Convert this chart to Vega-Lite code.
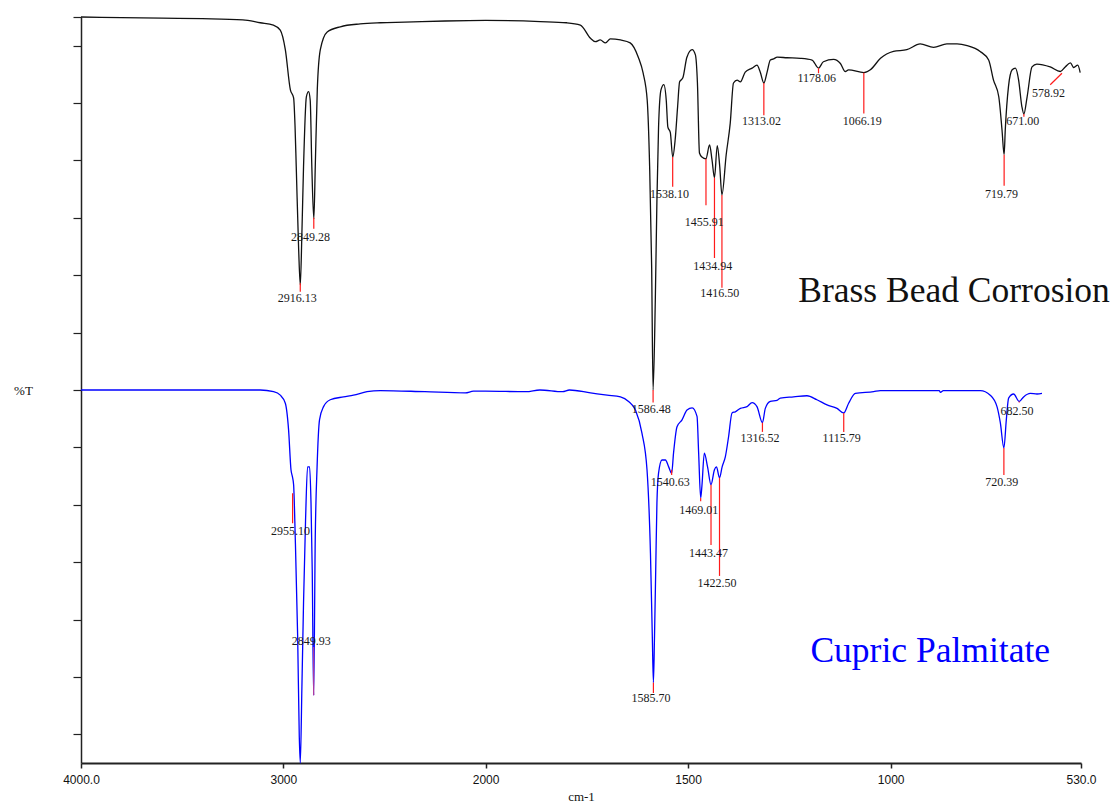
{
  "$schema": "https://vega.github.io/schema/vega-lite/v6.json",
  "width": 1000,
  "height": 746,
  "autosize": {"type": "none"},
  "padding": {"left": 81, "top": 17, "right": 33, "bottom": 43},
  "background": "white",
  "config": {
    "view": {"stroke": null},
    "axis": {"grid": false, "domainColor": "#222", "tickColor": "#222", "titleFont": "Liberation Serif", "titleFontWeight": "normal", "titleColor": "#111"},
    "axisX": {"tickSize": 5, "domainWidth": 2, "tickWidth": 1.5, "labelFont": "Liberation Sans Narrow, Liberation Sans", "labelFontSize": 12, "labelColor": "#111", "labelPadding": 6, "labelFlush": false, "labelOverlap": false, "titleFontSize": 13, "titlePadding": 5},
    "axisY": {"labels": false, "tickSize": 8, "domainWidth": 1.5, "tickWidth": 1.2, "titleAngle": 0, "titleX": -58, "titleY": 373, "titleAlign": "center", "titleBaseline": "middle", "titleFontSize": 13}
  },
  "resolve": {"scale": {"color": "independent"}},
  "datasets": {
    "spectra": [
      {"s":"Brass","nu":4000,"t":125.0},{"s":"Brass","nu":3800,"t":124.9},{"s":"Brass","nu":3600,"t":124.8},{"s":"Brass","nu":3400,"t":124.7},{"s":"Brass","nu":3200,"t":124.5},{"s":"Brass","nu":3114,"t":124.0},{"s":"Brass","nu":3049,"t":123.6},{"s":"Brass","nu":3015,"t":122.7},{"s":"Brass","nu":2990,"t":119.3},{"s":"Brass","nu":2965,"t":112.3},{"s":"Brass","nu":2949,"t":110.9},{"s":"Brass","nu":2942,"t":106.0},{"s":"Brass","nu":2936,"t":98.9},{"s":"Brass","nu":2924,"t":84.4},{"s":"Brass","nu":2916,"t":78.3},{"s":"Brass","nu":2908,"t":87.4},{"s":"Brass","nu":2900,"t":98.9},{"s":"Brass","nu":2886,"t":111.1},{"s":"Brass","nu":2875,"t":112.0},{"s":"Brass","nu":2867,"t":110.5},{"s":"Brass","nu":2859,"t":98.9},{"s":"Brass","nu":2849,"t":89.8},{"s":"Brass","nu":2842,"t":98.9},{"s":"Brass","nu":2832,"t":112.3},{"s":"Brass","nu":2817,"t":119.3},{"s":"Brass","nu":2783,"t":122.4},{"s":"Brass","nu":2718,"t":123.3},{"s":"Brass","nu":2620,"t":123.8},{"s":"Brass","nu":2521,"t":124.0},{"s":"Brass","nu":2400,"t":124.1},{"s":"Brass","nu":2200,"t":124.3},{"s":"Brass","nu":2000,"t":124.4},{"s":"Brass","nu":1865,"t":124.2},{"s":"Brass","nu":1800,"t":124.0},{"s":"Brass","nu":1766,"t":123.6},{"s":"Brass","nu":1741,"t":121.3},{"s":"Brass","nu":1729,"t":120.7},{"s":"Brass","nu":1717,"t":121.0},{"s":"Brass","nu":1704,"t":120.5},{"s":"Brass","nu":1692,"t":121.2},{"s":"Brass","nu":1667,"t":121.0},{"s":"Brass","nu":1643,"t":120.5},{"s":"Brass","nu":1623,"t":118.0},{"s":"Brass","nu":1611,"t":115.2},{"s":"Brass","nu":1601,"t":110.5},{"s":"Brass","nu":1595,"t":98.9},{"s":"Brass","nu":1590,"t":81.4},{"s":"Brass","nu":1586.5,"t":60.0},{"s":"Brass","nu":1581,"t":75.7},{"s":"Brass","nu":1577,"t":93.1},{"s":"Brass","nu":1573,"t":105.8},{"s":"Brass","nu":1567,"t":112.3},{"s":"Brass","nu":1560,"t":113.2},{"s":"Brass","nu":1554,"t":110.5},{"s":"Brass","nu":1550,"t":105.8},{"s":"Brass","nu":1544,"t":104.9},{"s":"Brass","nu":1538,"t":100.6},{"s":"Brass","nu":1532,"t":103.6},{"s":"Brass","nu":1526,"t":109.3},{"s":"Brass","nu":1521,"t":113.7},{"s":"Brass","nu":1513,"t":114.4},{"s":"Brass","nu":1503,"t":118.0},{"s":"Brass","nu":1490,"t":119.3},{"s":"Brass","nu":1482,"t":118.4},{"s":"Brass","nu":1477,"t":113.5},{"s":"Brass","nu":1472,"t":101.3},{"s":"Brass","nu":1466,"t":100.6},{"s":"Brass","nu":1456,"t":100.3},{"s":"Brass","nu":1447,"t":102.7},{"s":"Brass","nu":1441,"t":100.1},{"s":"Brass","nu":1435,"t":97.0},{"s":"Brass","nu":1428,"t":102.6},{"s":"Brass","nu":1422,"t":99.0},{"s":"Brass","nu":1416.5,"t":94.0},{"s":"Brass","nu":1406,"t":101.0},{"s":"Brass","nu":1396,"t":106.5},{"s":"Brass","nu":1388,"t":113.5},{"s":"Brass","nu":1379,"t":114.0},{"s":"Brass","nu":1371,"t":113.7},{"s":"Brass","nu":1359,"t":115.4},{"s":"Brass","nu":1342,"t":116.1},{"s":"Brass","nu":1330,"t":116.6},{"s":"Brass","nu":1322,"t":115.4},{"s":"Brass","nu":1313,"t":113.5},{"s":"Brass","nu":1305,"t":115.4},{"s":"Brass","nu":1297,"t":117.5},{"s":"Brass","nu":1289,"t":117.7},{"s":"Brass","nu":1280,"t":118.0},{"s":"Brass","nu":1256,"t":117.9},{"s":"Brass","nu":1223,"t":117.8},{"s":"Brass","nu":1194,"t":117.5},{"s":"Brass","nu":1178,"t":116.1},{"s":"Brass","nu":1166,"t":117.2},{"s":"Brass","nu":1141,"t":117.6},{"s":"Brass","nu":1124,"t":116.9},{"s":"Brass","nu":1112,"t":115.5},{"s":"Brass","nu":1104,"t":115.8},{"s":"Brass","nu":1066,"t":115.3},{"s":"Brass","nu":1050,"t":115.8},{"s":"Brass","nu":1025,"t":117.8},{"s":"Brass","nu":993,"t":119.0},{"s":"Brass","nu":960,"t":119.3},{"s":"Brass","nu":927,"t":120.3},{"s":"Brass","nu":894,"t":119.7},{"s":"Brass","nu":861,"t":120.3},{"s":"Brass","nu":836,"t":120.3},{"s":"Brass","nu":811,"t":120.0},{"s":"Brass","nu":779,"t":119.0},{"s":"Brass","nu":758,"t":117.5},{"s":"Brass","nu":746,"t":114.0},{"s":"Brass","nu":733,"t":111.1},{"s":"Brass","nu":725,"t":105.3},{"s":"Brass","nu":719.8,"t":101.0},{"s":"Brass","nu":717,"t":105.3},{"s":"Brass","nu":709,"t":112.9},{"s":"Brass","nu":700,"t":115.8},{"s":"Brass","nu":692,"t":116.1},{"s":"Brass","nu":684,"t":114.0},{"s":"Brass","nu":676,"t":109.4},{"s":"Brass","nu":671,"t":108.1},{"s":"Brass","nu":663,"t":111.1},{"s":"Brass","nu":651,"t":116.3},{"s":"Brass","nu":639,"t":116.8},{"s":"Brass","nu":606,"t":116.3},{"s":"Brass","nu":581,"t":115.5},{"s":"Brass","nu":569,"t":116.3},{"s":"Brass","nu":556,"t":117.0},{"s":"Brass","nu":548,"t":116.2},{"s":"Brass","nu":538,"t":116.6},{"s":"Brass","nu":532,"t":115.3},
      {"s":"Cupric","nu":4000,"t":60.0},{"s":"Cupric","nu":3600,"t":60.0},{"s":"Cupric","nu":3300,"t":60.0},{"s":"Cupric","nu":3114,"t":60.0},{"s":"Cupric","nu":3048,"t":59.7},{"s":"Cupric","nu":3015,"t":59.1},{"s":"Cupric","nu":2990,"t":57.7},{"s":"Cupric","nu":2974,"t":53.1},{"s":"Cupric","nu":2962,"t":46.1},{"s":"Cupric","nu":2955,"t":44.9},{"s":"Cupric","nu":2949,"t":43.5},{"s":"Cupric","nu":2941,"t":34.4},{"s":"Cupric","nu":2929,"t":17.0},{"s":"Cupric","nu":2921,"t":-0.4},{"s":"Cupric","nu":2916,"t":-5.0},{"s":"Cupric","nu":2908,"t":8.3},{"s":"Cupric","nu":2900,"t":22.9},{"s":"Cupric","nu":2890,"t":37.3},{"s":"Cupric","nu":2880,"t":46.6},{"s":"Cupric","nu":2870,"t":46.6},{"s":"Cupric","nu":2863,"t":40.3},{"s":"Cupric","nu":2857,"t":28.6},{"s":"Cupric","nu":2850,"t":6.8},{"s":"Cupric","nu":2842,"t":34.4},{"s":"Cupric","nu":2833,"t":46.6},{"s":"Cupric","nu":2821,"t":54.8},{"s":"Cupric","nu":2801,"t":57.1},{"s":"Cupric","nu":2768,"t":58.3},{"s":"Cupric","nu":2702,"t":58.8},{"s":"Cupric","nu":2653,"t":59.1},{"s":"Cupric","nu":2586,"t":59.7},{"s":"Cupric","nu":2520,"t":59.9},{"s":"Cupric","nu":2300,"t":59.7},{"s":"Cupric","nu":2100,"t":59.5},{"s":"Cupric","nu":2060,"t":59.8},{"s":"Cupric","nu":2000,"t":59.8},{"s":"Cupric","nu":1900,"t":59.7},{"s":"Cupric","nu":1866,"t":60.0},{"s":"Cupric","nu":1810,"t":59.7},{"s":"Cupric","nu":1793,"t":60.0},{"s":"Cupric","nu":1741,"t":59.5},{"s":"Cupric","nu":1700,"t":59.1},{"s":"Cupric","nu":1667,"t":58.8},{"s":"Cupric","nu":1647,"t":58.0},{"s":"Cupric","nu":1630,"t":56.5},{"s":"Cupric","nu":1614,"t":52.5},{"s":"Cupric","nu":1601.5,"t":46.1},{"s":"Cupric","nu":1593,"t":31.6},{"s":"Cupric","nu":1588.4,"t":17.0},{"s":"Cupric","nu":1585.7,"t":9.0},{"s":"Cupric","nu":1583,"t":17.0},{"s":"Cupric","nu":1580,"t":28.6},{"s":"Cupric","nu":1577,"t":40.3},{"s":"Cupric","nu":1573,"t":45.5},{"s":"Cupric","nu":1564.5,"t":47.8},{"s":"Cupric","nu":1556,"t":47.8},{"s":"Cupric","nu":1548,"t":46.6},{"s":"Cupric","nu":1540.6,"t":45.5},{"s":"Cupric","nu":1536,"t":49.0},{"s":"Cupric","nu":1527.4,"t":53.6},{"s":"Cupric","nu":1515,"t":54.8},{"s":"Cupric","nu":1502.7,"t":56.5},{"s":"Cupric","nu":1490,"t":56.9},{"s":"Cupric","nu":1478,"t":55.4},{"s":"Cupric","nu":1474,"t":49.0},{"s":"Cupric","nu":1469,"t":41.2},{"s":"Cupric","nu":1466,"t":43.2},{"s":"Cupric","nu":1460,"t":49.0},{"s":"Cupric","nu":1452,"t":46.6},{"s":"Cupric","nu":1443.5,"t":43.5},{"s":"Cupric","nu":1435,"t":46.1},{"s":"Cupric","nu":1430,"t":46.6},{"s":"Cupric","nu":1422.5,"t":44.7},{"s":"Cupric","nu":1416,"t":46.6},{"s":"Cupric","nu":1408,"t":48.4},{"s":"Cupric","nu":1400,"t":51.9},{"s":"Cupric","nu":1391.6,"t":56.0},{"s":"Cupric","nu":1383.5,"t":56.2},{"s":"Cupric","nu":1371,"t":56.8},{"s":"Cupric","nu":1354.6,"t":57.1},{"s":"Cupric","nu":1342,"t":57.8},{"s":"Cupric","nu":1330,"t":57.1},{"s":"Cupric","nu":1316.5,"t":54.3},{"s":"Cupric","nu":1309.4,"t":56.8},{"s":"Cupric","nu":1297,"t":58.0},{"s":"Cupric","nu":1280.5,"t":58.2},{"s":"Cupric","nu":1272.4,"t":58.6},{"s":"Cupric","nu":1239.6,"t":58.8},{"s":"Cupric","nu":1206.5,"t":59.0},{"s":"Cupric","nu":1182,"t":58.3},{"s":"Cupric","nu":1157,"t":57.4},{"s":"Cupric","nu":1132.4,"t":56.8},{"s":"Cupric","nu":1115.8,"t":56.0},{"s":"Cupric","nu":1103.7,"t":57.7},{"s":"Cupric","nu":1087,"t":59.4},{"s":"Cupric","nu":1042,"t":59.7},{"s":"Cupric","nu":1025.5,"t":59.9},{"s":"Cupric","nu":880,"t":59.9},{"s":"Cupric","nu":877,"t":59.6},{"s":"Cupric","nu":870,"t":59.9},{"s":"Cupric","nu":778.6,"t":59.9},{"s":"Cupric","nu":754,"t":59.1},{"s":"Cupric","nu":737.4,"t":57.1},{"s":"Cupric","nu":729.2,"t":54.3},{"s":"Cupric","nu":720.4,"t":49.9},{"s":"Cupric","nu":714.4,"t":54.8},{"s":"Cupric","nu":708.7,"t":58.6},{"s":"Cupric","nu":696.4,"t":59.3},{"s":"Cupric","nu":682.5,"t":58.0},{"s":"Cupric","nu":671.7,"t":58.8},{"s":"Cupric","nu":655.2,"t":59.4},{"s":"Cupric","nu":638.6,"t":59.3},{"s":"Cupric","nu":626.3,"t":59.4}
    ],
    "peaks": [
      {"label":"2916.13","p":2916.13,"p2":2916.13,"a":78.6,"b":77.1,"lx":2931,"ly":76.0,"k":"r"},
      {"label":"2849.28","p":2849.28,"p2":2849.28,"a":90.0,"b":88.1,"lx":2866,"ly":86.7,"k":"r"},
      {"label":"1586.48","p":1586.48,"p2":1586.48,"a":60.0,"b":57.8,"lx":1591,"ly":56.7,"k":"r"},
      {"label":"1538.10","p":1538.1,"p2":1538.1,"a":100.6,"b":95.4,"lx":1546,"ly":94.1,"k":"r"},
      {"label":"1455.91","p":1455.91,"p2":1455.91,"a":100.3,"b":92.2,"lx":1460,"ly":89.3,"k":"r"},
      {"label":"1434.94","p":1434.94,"p2":1434.94,"a":97.0,"b":83.0,"lx":1439,"ly":81.6,"k":"r"},
      {"label":"1416.50","p":1416.5,"p2":1416.5,"a":94.0,"b":77.8,"lx":1421.6,"ly":76.9,"k":"r"},
      {"label":"1313.02","p":1313.02,"p2":1313.02,"a":113.5,"b":107.9,"lx":1319,"ly":106.8,"k":"r"},
      {"label":"1178.06","p":1178.06,"p2":1178.06,"a":116.1,"b":115.2,"lx":1182.5,"ly":114.3,"k":"r"},
      {"label":"1066.19","p":1066.19,"p2":1066.19,"a":115.3,"b":108.2,"lx":1070,"ly":106.9,"k":"r"},
      {"label":"719.79","p":719.79,"p2":719.79,"a":101.0,"b":95.6,"lx":726,"ly":94.2,"k":"r"},
      {"label":"671.00","p":671.0,"p2":671.0,"a":108.1,"b":107.6,"lx":674,"ly":106.9,"k":"r"},
      {"label":"578.92","p":577,"p2":606,"a":115.2,"b":113.2,"lx":610.5,"ly":111.7,"k":"r"},
      {"label":"2955.10","p":2954,"p2":2954,"a":42.0,"b":36.8,"lx":2965,"ly":35.4,"k":"r"},
      {"label":"2849.93","p":2850,"p2":2850,"a":15.2,"b":6.8,"lx":2862,"ly":16.3,"k":"m"},
      {"label":"1585.70","p":1585.7,"p2":1585.7,"a":9.0,"b":7.2,"lx":1591.5,"ly":6.3,"k":"r"},
      {"label":"1540.63","p":1540.63,"p2":1540.63,"a":46.1,"b":45.2,"lx":1544,"ly":43.9,"k":"r"},
      {"label":"1469.01","p":1469.01,"p2":1469.01,"a":41.2,"b":40.6,"lx":1474,"ly":39.1,"k":"r"},
      {"label":"1443.47","p":1443.47,"p2":1443.47,"a":43.5,"b":33.0,"lx":1449.4,"ly":31.6,"k":"r"},
      {"label":"1422.50","p":1422.5,"p2":1422.5,"a":44.7,"b":27.6,"lx":1428.7,"ly":26.4,"k":"r"},
      {"label":"1316.52","p":1316.52,"p2":1316.52,"a":54.3,"b":52.7,"lx":1322.5,"ly":51.6,"k":"r"},
      {"label":"1115.79","p":1115.79,"p2":1115.79,"a":56.0,"b":52.7,"lx":1121,"ly":51.6,"k":"r"},
      {"label":"720.39","p":720.39,"p2":720.39,"a":49.9,"b":45.2,"lx":725.5,"ly":44.0,"k":"r"},
      {"label":"682.50","p":682.5,"p2":682.5,"a":58.0,"b":57.8,"lx":688,"ly":56.4,"k":"r"}
    ],
    "titles": [
      {"text":"Brass Bead Corrosion","c":"Brass","tx":1228,"ty":75.3},
      {"text":"Cupric Palmitate","c":"Cupric","tx":1198,"ty":12.6}
    ]
  },
  "layer": [
    {
      "data": {"name": "spectra"},
      "mark": {"type": "line", "strokeWidth": 1.3, "interpolate": "monotone"},
      "encoding": {
        "x": {"field": "nu", "type": "quantitative",
          "scale": {"domain": [4000, 2000, 530], "range": [0, 404.6, 1000], "nice": false, "zero": false},
          "axis": {"values": [4000, 3000, 2000, 1500, 1000, 530], "labelExpr": "datum.value == 4000 ? '4000.0' : datum.value == 530 ? '530.0' : format(datum.value, 'd')", "title": "cm-1"}},
        "y": {"field": "t", "type": "quantitative",
          "scale": {"domain": [-5, 125], "nice": false, "zero": false},
          "axis": {"values": [0, 10, 20, 30, 40, 50, 60, 70, 80, 90, 100, 110, 120, 125], "title": "%T"}},
        "color": {"field": "s", "type": "nominal", "scale": {"domain": ["Brass", "Cupric"], "range": ["#111111", "#0000ff"]}, "legend": null}
      }
    },
    {
      "data": {"name": "peaks"},
      "mark": {"type": "rule", "strokeWidth": 1.2},
      "encoding": {
        "x": {"field": "p", "type": "quantitative", "scale": {"domain": [4000, 2000, 530], "range": [0, 404.6, 1000], "nice": false, "zero": false},
          "axis": {"values": [4000, 3000, 2000, 1500, 1000, 530], "labelExpr": "datum.value == 4000 ? '4000.0' : datum.value == 530 ? '530.0' : format(datum.value, 'd')", "title": "cm-1"}},
        "x2": {"field": "p2"},
        "y": {"field": "a", "type": "quantitative", "scale": {"domain": [-5, 125], "nice": false, "zero": false},
          "axis": {"values": [0, 10, 20, 30, 40, 50, 60, 70, 80, 90, 100, 110, 120, 125], "title": "%T"}},
        "y2": {"field": "b"},
        "color": {"field": "k", "type": "nominal", "scale": {"domain": ["r", "m"], "range": ["#ff1a1a", "#b43c9c"]}, "legend": null}
      }
    },
    {
      "data": {"name": "peaks"},
      "mark": {"type": "text", "font": "Liberation Serif", "fontSize": 12, "align": "center", "baseline": "middle", "color": "#1a1a1a"},
      "encoding": {
        "x": {"field": "lx", "type": "quantitative", "scale": {"domain": [4000, 2000, 530], "range": [0, 404.6, 1000], "nice": false, "zero": false},
          "axis": {"values": [4000, 3000, 2000, 1500, 1000, 530], "labelExpr": "datum.value == 4000 ? '4000.0' : datum.value == 530 ? '530.0' : format(datum.value, 'd')", "title": "cm-1"}},
        "y": {"field": "ly", "type": "quantitative", "scale": {"domain": [-5, 125], "nice": false, "zero": false},
          "axis": {"values": [0, 10, 20, 30, 40, 50, 60, 70, 80, 90, 100, 110, 120, 125], "title": "%T"}},
        "text": {"field": "label", "type": "nominal"}
      }
    },
    {
      "data": {"name": "titles"},
      "mark": {"type": "text", "font": "Liberation Serif", "fontSize": 35.5, "align": "left", "baseline": "alphabetic"},
      "encoding": {
        "x": {"field": "tx", "type": "quantitative", "scale": {"domain": [4000, 2000, 530], "range": [0, 404.6, 1000], "nice": false, "zero": false},
          "axis": {"values": [4000, 3000, 2000, 1500, 1000, 530], "labelExpr": "datum.value == 4000 ? '4000.0' : datum.value == 530 ? '530.0' : format(datum.value, 'd')", "title": "cm-1"}},
        "y": {"field": "ty", "type": "quantitative", "scale": {"domain": [-5, 125], "nice": false, "zero": false},
          "axis": {"values": [0, 10, 20, 30, 40, 50, 60, 70, 80, 90, 100, 110, 120, 125], "title": "%T"}},
        "text": {"field": "text", "type": "nominal"},
        "color": {"field": "c", "type": "nominal", "scale": {"domain": ["Brass", "Cupric"], "range": ["#111111", "#0000ff"]}, "legend": null}
      }
    }
  ]
}
